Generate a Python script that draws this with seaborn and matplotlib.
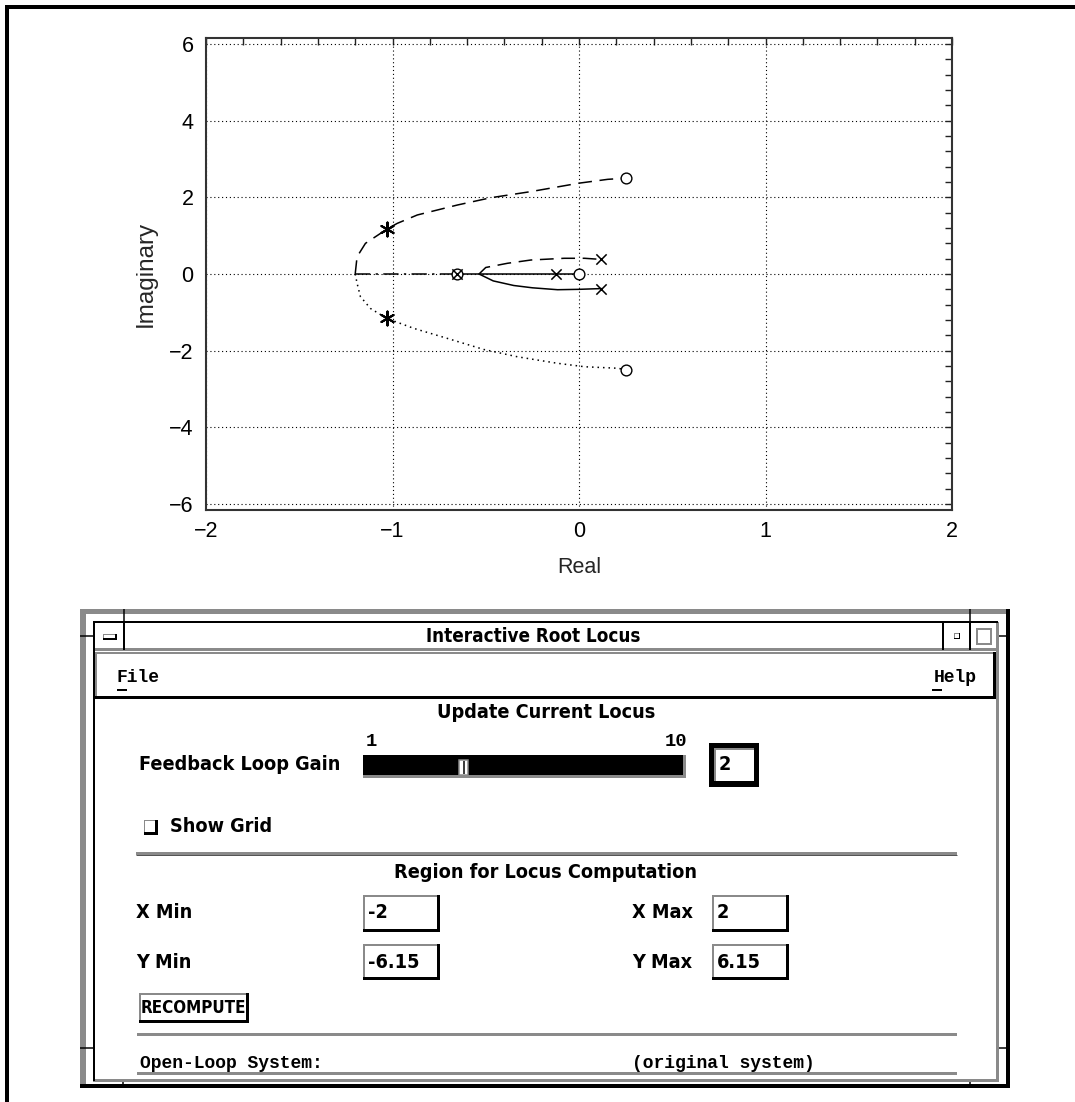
import matplotlib
matplotlib.use("Agg")
import matplotlib.pyplot as plt
import seaborn as sns
from matplotlib.patches import Rectangle
from matplotlib.ticker import MultipleLocator, FixedLocator

# ---------------- data ----------------
outer_up_x = [-1.20, -1.19, -1.145, -1.03, -0.975, -0.867, -0.652, -0.473, -0.258, 0.0, 0.154, 0.25]
outer_up_y = [0.0, 0.45, 0.80, 1.17, 1.32, 1.54, 1.80, 1.99, 2.15, 2.37, 2.47, 2.50]
outer_lo_x = [-1.20, -1.19, -1.172, -1.118, -1.03, -0.885, -0.706, -0.51, -0.33, -0.115, 0.03, 0.21, 0.25]
outer_lo_y = [0.0, -0.24, -0.59, -0.90, -1.16, -1.42, -1.68, -1.97, -2.16, -2.33, -2.42, -2.46, -2.50]
real_left_x = [-1.20, -0.66]
real_left_y = [0.0, 0.0]
real_right_x = [-0.66, 0.0]
real_right_y = [0.0, 0.0]
inner_up_x = [-0.536, -0.50, -0.383, -0.258, -0.079, 0.03, 0.12]
inner_up_y = [0.0, 0.17, 0.28, 0.365, 0.41, 0.41, 0.38]
inner_lo_x = [-0.536, -0.46, -0.35, -0.25, -0.115, 0.0, 0.12]
inner_lo_y = [0.0, -0.18, -0.30, -0.36, -0.41, -0.40, -0.38]

pole_x = [0.12, 0.12, -0.124, -0.656]
pole_y = [0.38, -0.38, 0.0, 0.0]
zero_x = [0.25, 0.25, 0.0, -0.656]
zero_y = [2.50, -2.50, 0.0, 0.0]
cl_pole_x = [-1.03, -1.03]
cl_pole_y = [1.17, -1.16]

x_ticks = [-2, -1, 0, 1, 2]
y_ticks = [-6, -4, -2, 0, 2, 4, 6]
x_range = [-2, 2]
y_range = [-6.15, 6.15]

gui_title = "Interactive Root Locus"
gain_min, gain_max, gain_value = "1", "10", "2"
field_labels = ["X Min", "X Max", "Y Min", "Y Max"]
field_values = ["-2", "2", "-6.15", "6.15"]

# ---------------- figure ----------------
sns.set_theme(style="white")
plt.rcParams['font.family'] = ['Liberation Sans', 'DejaVu Sans']

W, H = 1075, 1102
fig = plt.figure(figsize=(W / 100, H / 100), dpi=100)
fig.patch.set_facecolor("white")

ax = fig.add_axes([206 / W, 1 - 509.7 / H, (952 - 206) / W, (509.7 - 38.3) / H])
ax.set_facecolor("white")

lw = 1.1
sns.lineplot(x=outer_up_x, y=outer_up_y, sort=False, estimator=None, color="black",
             lw=lw, linestyle=(0, (9, 5)), ax=ax)
sns.lineplot(x=outer_lo_x, y=outer_lo_y, sort=False, estimator=None, color="black",
             lw=lw, linestyle=(0, (1, 2.6)), ax=ax)
sns.lineplot(x=real_left_x, y=real_left_y, sort=False, estimator=None, color="black",
             lw=lw, linestyle=(0, (10, 3.5, 1.5, 3.5)), ax=ax)
sns.lineplot(x=real_right_x, y=real_right_y, sort=False, estimator=None, color="black",
             lw=lw, linestyle="-", ax=ax)
sns.lineplot(x=inner_up_x, y=inner_up_y, sort=False, estimator=None, color="black",
             lw=lw, linestyle=(0, (9, 5)), ax=ax)
sns.lineplot(x=inner_lo_x, y=inner_lo_y, sort=False, estimator=None, color="black",
             lw=lw, linestyle="-", ax=ax)

sns.scatterplot(x=zero_x, y=zero_y, marker="o", s=60, facecolor="white",
                edgecolor="black", linewidth=1.0, ax=ax, zorder=5)
sns.scatterplot(x=pole_x, y=pole_y, marker="x", s=55, color="black",
                linewidth=1.1, ax=ax, zorder=6)
sns.scatterplot(x=cl_pole_x, y=cl_pole_y, marker=(6, 2, 0), s=100, color="black",
                linewidth=1.5, ax=ax, zorder=6)

ax.set_xlim(*x_range)
ax.set_ylim(*y_range)
ax.xaxis.set_major_locator(FixedLocator(x_ticks))
ax.yaxis.set_major_locator(FixedLocator(y_ticks))
ax.xaxis.set_minor_locator(MultipleLocator(0.2))
ax.yaxis.set_minor_locator(MultipleLocator(0.4))
ax.grid(True, which="major", color="black", linestyle=(0, (1, 2.5)), lw=0.8)
ax.tick_params(which="both", direction="in", top=True, right=True, length=5,
               width=1.0, colors="#222222", labelsize=15.5, labelcolor="black")
ax.tick_params(axis="x", pad=8)
ax.tick_params(axis="y", pad=9)
for s in ax.spines.values():
    s.set_color("#333333")
    s.set_linewidth(1.5)
ax.set_xlabel("Real", fontsize=15.5, labelpad=11)
ax.set_ylabel("Imaginary", fontsize=17.5, labelpad=9)

# ---------------- GUI panel (pixel-space overlay) ----------------
g = fig.add_axes([0, 0, 1, 1], zorder=-1)
g.set_xlim(0, W)
g.set_ylim(H, 0)
g.axis("off")
PX = 0.72
STIP = "#8a8a8a"


def box(x0, y0, x1, y1, fc="white", ec="none", lwp=1.0):
    g.add_patch(Rectangle((x0, y0), x1 - x0, y1 - y0, facecolor=fc, edgecolor=ec,
                          lw=lwp * PX))


def line(x0, y0, x1, y1, c="black", lwp=1.0):
    g.plot([x0, x1], [y0, y1], color=c, lw=lwp * PX, solid_capstyle="butt")


def bevel(x0, y0, x1, y1, light=STIP, dark="black", wl=2, wd=3):
    box(x0, y0, x1, y1, fc="white")
    box(x0, y0, x1, y0 + wl, fc=light)
    box(x0, y0, x0 + wl, y1, fc=light)
    box(x0, y1 - wd, x1, y1, fc=dark)
    box(x1 - wd, y0, x1, y1, fc=dark)


UI = dict(family="DejaVu Sans", fontstretch="condensed", fontweight="bold", color="black")
MONO = dict(family="Liberation Mono", fontweight="bold", color="black")
UIS = 14.2

# outer picture frame
box(5, 5, W + 5, 9, fc="black")
box(5, 5, 9, H + 5, fc="black")

# window frame
box(80, 609, 1010, 1088, fc="white")
box(80, 609, 1010, 614, fc=STIP)
box(80, 609, 86, 1088, fc=STIP)
box(1006, 609, 1010, 1088, fc="black")
box(80, 1084, 1010, 1088, fc="black")
line(94, 622, 94, 1081, lwp=2)
line(93, 622, 998, 622, lwp=2)
box(996, 622, 999, 1082, fc=STIP)
box(93, 1079, 999, 1082, fc=STIP)
for xx in (124, 970):
    line(xx, 609, xx, 622, lwp=1.5)
for xx in (123, 970):
    line(xx, 1082, xx, 1088, lwp=1.5)
line(80, 1048, 94, 1048, lwp=1.5)
line(999, 1048, 1010, 1048, lwp=1.5)
line(80, 636, 94, 636, lwp=1.5)
line(999, 636, 1010, 636, lwp=1.5)

# title bar
box(94, 648, 998, 651, fc=STIP)
line(124, 622, 124, 650, lwp=2)
line(943, 622, 943, 650, lwp=2)
line(970, 622, 970, 650, lwp=2)
bevel(103, 634, 117, 640, wl=1, wd=2)
bevel(954, 633, 960, 639, wl=1, wd=1)
box(977, 629, 991, 644, fc="white", ec=STIP, lwp=2)
g.text(533, 636, gui_title, ha="center", va="center", fontsize=13.5, **UI)

# menu bar
bevel(95, 652, 996, 699, wl=2, wd=3)
g.text(117, 677, "File", ha="left", va="center", fontsize=13, **MONO)
g.text(977, 677, "Help", ha="right", va="center", fontsize=13, **MONO)
line(117, 690, 127, 690, lwp=2)
line(932, 690, 942, 690, lwp=2)

# update section
g.text(546, 713, "Update Current Locus", ha="center", va="center", fontsize=UIS, **UI)
g.text(139, 765, "Feedback Loop Gain", ha="left", va="center", fontsize=UIS, **UI)
g.text(366, 742, gain_min, ha="left", va="center", fontsize=13.5, **MONO)
g.text(687, 742, gain_max, ha="right", va="center", fontsize=13.5, **MONO)
box(363, 755, 686, 778, fc="black")
box(363, 775, 686, 778, fc=STIP)
box(683, 755, 686, 778, fc=STIP)
box(459, 760, 468, 775, fc="white", ec=STIP, lwp=1.5)
line(463.5, 761, 463.5, 774, lwp=1.5)
box(709, 743, 759, 787, fc="black")
box(714, 748, 754, 781, fc="white")
box(714, 748, 754, 750, fc=STIP)
box(714, 748, 716, 781, fc=STIP)
g.text(719, 765, gain_value, ha="left", va="center", fontsize=UIS, **UI)

bevel(144, 820, 158, 835, wl=1, wd=3)
g.text(170, 827, "Show Grid", ha="left", va="center", fontsize=UIS, **UI)

# separator
box(136, 852, 957, 855, fc=STIP)
line(136, 855, 957, 855, c="#555555", lwp=1)

g.text(546, 873, "Region for Locus Computation", ha="center", va="center", fontsize=UIS, **UI)

rows = [(913, 895, 932), (913, 895, 932), (962, 944, 980), (962, 944, 980)]
cols = [(136, 363, 440), (632, 712, 789), (136, 363, 440), (632, 712, 789)]
for lab, val, (ty, by0, by1), (lx, bx0, bx1) in zip(field_labels, field_values, rows, cols):
    g.text(lx, ty, lab, ha="left", va="center", fontsize=UIS, **UI)
    bevel(bx0, by0, bx1, by1, wl=2, wd=3)
    g.text(bx0 + 5, ty, val, ha="left", va="center", fontsize=UIS, **UI)

bevel(139, 993, 249, 1023, wl=2, wd=3)
g.text(193, 1008, "RECOMPUTE", ha="center", va="center", fontsize=12.2, **UI)

box(137, 1033, 957, 1036, fc=STIP)
g.text(140, 1063, "Open-Loop System:", ha="left", va="center", fontsize=13, **MONO)
g.text(632, 1063, "(original system)", ha="left", va="center", fontsize=13, **MONO)
box(137, 1072, 957, 1075, fc=STIP)

fig.savefig("out.png", dpi=100, facecolor="white")
